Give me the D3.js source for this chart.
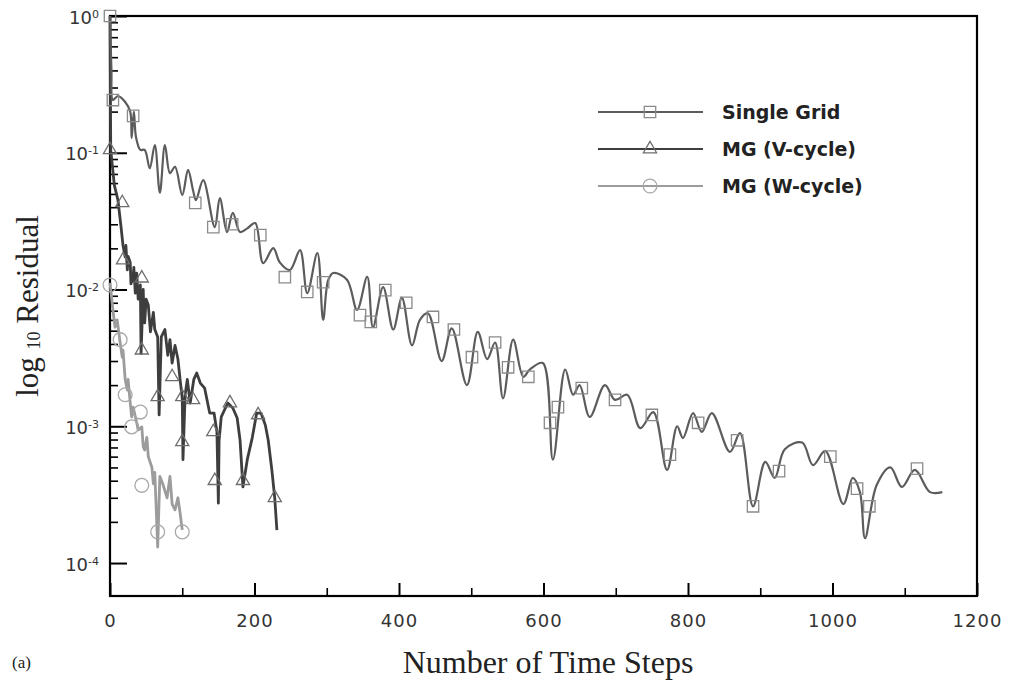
<!DOCTYPE html>
<html>
<head>
<meta charset="utf-8">
<script src="https://cdn.jsdelivr.net/npm/d3@7"></script>
<style>
  body { margin: 0; background: #fff; }
  svg { display: block; }
</style>
</head>
<body>
<svg id="chart" width="1009" height="683"></svg>
<script>
/* residual history: single grid vs multigrid V / W cycles */

// ---- data ----
const sgSteps = [0, 2, 4, 11, 21, 28, 30, 33, 36, 42, 48, 55, 62, 69, 76, 83, 90, 100, 108, 115,
  119, 129, 145, 152, 162, 170, 180, 190, 201, 212, 226, 235, 249, 263, 273, 287, 295, 302, 309, 328,
  342, 356, 364, 378, 392, 404, 418, 429, 440, 459, 473, 494, 509, 522, 533, 544, 558, 572, 581, 599,
  613, 630, 641, 650, 664, 685, 699, 716, 734, 752, 771, 785, 793, 807, 819, 833, 858, 872, 890, 907,
  920, 934, 958, 973, 990, 1015, 1028, 1038, 1045, 1061, 1080, 1096, 1114, 1135, 1152];
const sgResid = [1.0, 0.4, 0.243, 0.26, 0.235, 0.20, 0.128, 0.20, 0.13, 0.105, 0.105, 0.077, 0.114, 0.051, 0.114, 0.071, 0.079, 0.049, 0.075, 0.053,
  0.045, 0.063, 0.0286, 0.0467, 0.0263, 0.0363, 0.0263, 0.028, 0.0306, 0.0156, 0.0201, 0.0158, 0.0139, 0.0194, 0.0094, 0.0185, 0.006, 0.0117, 0.0132, 0.0118,
  0.0071, 0.0124, 0.0053, 0.0104, 0.0051, 0.0087, 0.0039, 0.006, 0.0067, 0.003, 0.0052, 0.002, 0.0049, 0.0031, 0.0041, 0.0016, 0.0043, 0.0023, 0.0026, 0.0029,
  0.00057, 0.0026, 0.0017, 0.002, 0.00117, 0.002, 0.00156, 0.0017, 0.00097, 0.00127, 0.00048, 0.001, 0.00082, 0.00125, 0.00091, 0.00125, 0.00065, 0.00089, 0.00026, 0.00055,
  0.00042, 0.00068, 0.00076, 0.00052, 0.00066, 0.00027, 0.00042, 0.00033, 0.000152, 0.00037, 0.0005, 0.00036, 0.00048, 0.00033, 0.00033];
const sgMarkSteps = [0, 4, 32, 118, 143, 169, 208, 242, 273, 295, 346, 361, 381, 410, 447, 476, 501, 533, 551, 579,
  609, 620, 653, 699, 750, 775, 814, 868, 890, 926, 997, 1034, 1051, 1117];
const sgMarkResid = [1.0, 0.243, 0.186, 0.043, 0.0286, 0.030, 0.025, 0.0123, 0.0096, 0.0113, 0.0065, 0.0058, 0.0099, 0.0080, 0.0063, 0.0051, 0.0032, 0.0041, 0.0027, 0.0023,
  0.00106, 0.00138, 0.0019, 0.00156, 0.00121, 0.00062, 0.00106, 0.00079, 0.00026, 0.00047, 0.0006, 0.00035, 0.00026, 0.00049];

const vSteps = [0, 1, 6, 11, 15, 18, 21, 22, 24, 25, 28, 29, 32, 33, 35, 37, 39, 42, 43, 46, 47, 48, 50, 53, 56, 60, 62, 66,
  68, 71, 76, 80, 83, 86, 90, 94, 97, 100, 101, 104, 107, 111, 116, 120, 125, 131, 138, 144, 148,
  150, 151, 154, 163, 170, 176, 180, 184, 190, 197, 203, 209, 215, 219, 224, 228, 231];
const vResid = [1.0, 0.105, 0.058, 0.045, 0.0296, 0.021, 0.0173, 0.021, 0.0139, 0.0175, 0.0158, 0.011, 0.0123, 0.0145, 0.0094, 0.0132, 0.0085, 0.0108, 0.0034, 0.01, 0.0062, 0.0057, 0.0085, 0.0077, 0.0049, 0.0068, 0.0051, 0.0045,
  0.00121, 0.0045, 0.0051, 0.0033, 0.0043, 0.0029, 0.0039, 0.0031, 0.0022, 0.0016, 0.00057, 0.0017, 0.0022, 0.00148, 0.0022, 0.00245, 0.00207, 0.0019, 0.00125, 0.00125, 0.00091,
  0.000274, 0.00079, 0.00117, 0.00148, 0.00136, 0.00115, 0.00079, 0.00036, 0.00057, 0.00083, 0.00125, 0.00125, 0.00102, 0.00079, 0.00048, 0.0003, 0.000174];
const vMarkSteps = [0, 17, 18, 44, 44, 66, 86, 100, 100, 115, 143, 145, 166, 184, 205, 228];
const vMarkResid = [0.105, 0.043, 0.0164, 0.0121, 0.0036, 0.00164, 0.0023, 0.00164, 0.00077, 0.00156, 0.00091, 0.0004, 0.00148, 0.0004, 0.00121, 0.0003];

const wSteps = [0, 4, 7, 10, 14, 17, 18, 21, 24, 25, 28, 30, 32, 37, 39, 44, 46, 48, 51, 53,
  58, 60, 62, 66, 69, 73, 79, 83, 86, 90, 94, 97, 100];
const wResid = [0.0112, 0.0071, 0.0053, 0.006, 0.0041, 0.0032, 0.0036, 0.0022, 0.00184, 0.0022, 0.00148, 0.00117, 0.00138, 0.00106, 0.00094, 0.00099, 0.00071, 0.00067, 0.00083, 0.0006,
  0.0005, 0.00038, 0.00046, 0.000131, 0.00043, 0.00038, 0.0003, 0.00043, 0.00027, 0.000245, 0.0003, 0.000233, 0.000175];
const wMarkSteps = [0, 14, 21, 30, 42, 44, 66, 100];
const wMarkResid = [0.0108, 0.0043, 0.0017, 0.00099, 0.00127, 0.00037, 0.000169, 0.000169];

const xMajor = [0, 200, 400, 600, 800, 1000, 1200];
const xMinor = [100, 300, 500, 700, 900, 1100];
const yExponents = [0, -1, -2, -3, -4];
const legendNames = ["Single Grid", "MG (V-cycle)", "MG (W-cycle)"];

// ---- layout ----
const margin = {top: 16, right: 32, bottom: 87, left: 110};
const width = 1009, height = 683;

const svg = d3.select("#chart");

const x = d3.scaleLinear()
  .domain([0, 1200])
  .range([margin.left, width - margin.right]);

const y = d3.scaleLog()
  .domain([Math.pow(10, -4.241), 1])
  .range([height - margin.bottom, margin.top]);

const zip = (a, b) => a.map((v, i) => [v, b[i]]);

/*** minor ticks */
const yMinor = [];
yExponents.forEach(e => { if (e < 0) for (let m = 2; m <= 9; m++) yMinor.push(m * Math.pow(10, e)); });

svg.append("g")
  .attr("transform", `translate(${margin.left},0)`)
  .call(d3.axisLeft(y).tickValues(yMinor).tickSize(-8).tickFormat(""))
  .call(g => g.select(".domain").remove())
  .call(g => g.selectAll("line").attr("stroke", "#000").attr("stroke-width", 1.6));

svg.append("g")
  .attr("transform", `translate(0,${height - margin.bottom})`)
  .call(d3.axisBottom(x).tickValues(xMinor).tickSize(-8).tickFormat(""))
  .call(g => g.select(".domain").remove())
  .call(g => g.selectAll("line").attr("stroke", "#000").attr("stroke-width", 1.6));

/*** major ticks + labels */
svg.append("g")
  .attr("transform", `translate(${margin.left},0)`)
  .call(d3.axisLeft(y).tickValues(yExponents.map(e => Math.pow(10, e))).tickSize(-17).tickPadding(11).tickFormat(""))
  .call(g => g.select(".domain").remove())
  .call(g => g.selectAll("line").attr("stroke", "#000").attr("stroke-width", 2))
  .call(g => g.selectAll(".tick text")
    .attr("font-family", "DejaVu Sans")
    .attr("font-size", "18px")
    .attr("fill", "#333")
    .attr("dy", "0.4em")
    .each(function(d) {
      const t = d3.select(this);
      t.append("tspan").text("10");
      t.append("tspan").attr("dy", "-0.55em").attr("font-size", "11px").text(Math.round(Math.log10(d)));
    }));

svg.append("g")
  .attr("transform", `translate(0,${height - margin.bottom})`)
  .call(d3.axisBottom(x).tickValues(xMajor).tickSize(-13).tickPadding(18).tickFormat(d3.format("d")))
  .call(g => g.select(".domain").remove())
  .call(g => g.selectAll("line").attr("stroke", "#000").attr("stroke-width", 2))
  .call(g => g.selectAll(".tick text")
    .attr("font-family", "DejaVu Sans")
    .attr("font-size", "18px")
    .attr("letter-spacing", "1px")
    .attr("fill", "#333"));

/*** frame */
svg.append("rect")
  .attr("x", x(0)).attr("y", y(1))
  .attr("width", x(1200) - x(0))
  .attr("height", y.range()[0] - y(1))
  .attr("fill", "none")
  .attr("stroke", "#000")
  .attr("stroke-width", 2.2);

/*** series */
const series = [
  {line: zip(sgSteps, sgResid), marks: zip(sgMarkSteps, sgMarkResid), color: "#5c5c5c", mark: "#8a8a8a", sym: d3.symbolSquare, size: 130, width: 2.2, curve: d3.curveCatmullRom.alpha(0.5)},
  {line: zip(vSteps, vResid), marks: zip(vMarkSteps, vMarkResid), color: "#3e3e3e", mark: "#6e6e6e", sym: d3.symbolTriangle, size: 75, width: 2.8, curve: d3.curveLinear},
  {line: zip(wSteps, wResid), marks: zip(wMarkSteps, wMarkResid), color: "#9c9c9c", mark: "#a8a8a8", sym: d3.symbolCircle, size: 150, width: 2.8, curve: d3.curveLinear}
];

const plot = svg.append("g");

series.slice().reverse().forEach(s => {
  plot.append("path")
    .datum(s.line)
    .attr("fill", "none")
    .attr("stroke", s.color)
    .attr("stroke-width", s.width)
    .attr("stroke-linejoin", "round")
    .attr("d", d3.line().x(d => x(d[0])).y(d => y(d[1])).curve(s.curve));

  plot.selectAll(null)
    .data(s.marks)
    .join("path")
    .attr("transform", d => `translate(${x(d[0])},${y(d[1])})`)
    .attr("d", d3.symbol().type(s.sym).size(s.size))
    .attr("fill", "none")
    .attr("stroke", s.mark)
    .attr("stroke-width", 1.3);
});

/*** legend */
const legend = svg.append("g").attr("transform", "translate(598,112)");
series.forEach((s, i) => {
  const row = legend.append("g").attr("transform", `translate(0,${i * 37})`);
  row.append("line").attr("x1", 0).attr("x2", 105)
    .attr("stroke", s.color).attr("stroke-width", 2);
  row.append("path")
    .attr("transform", "translate(52,0)")
    .attr("d", d3.symbol().type(s.sym).size(s.size))
    .attr("fill", "none").attr("stroke", s.mark).attr("stroke-width", 1.3);
  row.append("text")
    .attr("x", 124).attr("y", 0).attr("dy", "0.36em")
    .attr("font-family", "DejaVu Sans")
    .attr("font-weight", "bold")
    .attr("font-size", "19px")
    .attr("fill", "#222")
    .text(legendNames[i]);
});

/*** axis titles */
svg.append("text")
  .attr("x", 548).attr("y", 673)
  .attr("text-anchor", "middle")
  .attr("font-family", "Liberation Serif")
  .attr("font-size", "32px")
  .attr("fill", "#222")
  .text("Number of Time Steps");

svg.append("text")
  .attr("x", 12).attr("y", 668)
  .attr("font-family", "Liberation Serif")
  .attr("font-size", "17px")
  .attr("fill", "#222")
  .text("(a)");

const yTitle = svg.append("text")
  .attr("transform", "translate(38,306) rotate(-90)")
  .attr("text-anchor", "middle")
  .attr("font-family", "Liberation Serif")
  .attr("font-size", "31px")
  .attr("fill", "#222");
yTitle.append("tspan").text("log ");
yTitle.append("tspan").attr("font-size", "18px").attr("dy", "2").text("10");
yTitle.append("tspan").attr("dy", "-2").text(" Residual");
</script>
</body>
</html>
